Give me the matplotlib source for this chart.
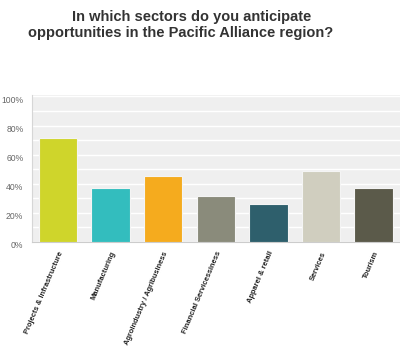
import numpy as np
import matplotlib
matplotlib.use('Agg')
import matplotlib.pyplot as plt
import matplotlib.transforms as mtransforms
from matplotlib.ticker import FixedLocator

# ------------------------------------------------------------
# DATA
# ------------------------------------------------------------

sectors = ['Projects & Infrastructure', 'Manufacturing', 'Agroindustry / Agribusiness',
           'Financial Servicessiness', 'Apparel & retail', 'Services', 'Tourism']
shares  = [71.6, 37.2, 45.6, 31.8, 25.9, 48.5, 37.2]   # percent of respondents
colors  = ['#cfd52b', '#33bdbe', '#f5ab1e', '#8a8b7b', '#2e5f6c', '#d0cebf', '#5b5a4a']

title_lines = ['In which sectors do you anticipate',
               'opportunities in the Pacific Alliance region?']

# ------------------------------------------------------------
# PLOT
# ------------------------------------------------------------

plt.rcParams['font.family'] = ['Liberation Sans', 'DejaVu Sans']

fig = plt.figure(figsize=(4.0, 3.46), dpi=100)
ax = fig.add_axes([0.079, 0.3006, 0.921, 0.4249])

x = np.arange(len(sectors))
ax.bar(x, shares, width=0.73, color=colors, edgecolor='#f4f4f4', linewidth=0.8, zorder=3)

ax.set_xlim(-0.5, len(sectors) - 0.5)
ax.set_ylim(0, 101)
ax.set_facecolor('#efefef')

# white 10% grid over the grey panel
ax.yaxis.set_minor_locator(FixedLocator(np.arange(10, 101, 10)))
ax.set_yticks(np.arange(0, 101, 20))
ax.set_yticklabels([f'{v}%' for v in range(0, 101, 20)])
ax.grid(axis='y', which='both', color='white', linewidth=1.0, zorder=1)
ax.tick_params(axis='y', which='both', length=0, pad=6, labelsize=6.2, labelcolor='#666666')

# percent labels sit a few pixels below their grid line
shift = mtransforms.ScaledTranslation(0, -3 / 100, fig.dpi_scale_trans)
for lbl in ax.get_yticklabels():
    lbl.set_transform(lbl.get_transform() + shift)

ax.set_xticks(x)
ax.set_xticklabels(sectors, rotation=67, ha='right', rotation_mode='anchor',
                   fontsize=5.4, fontweight='bold', color='#222222')
ax.tick_params(axis='x', length=0, pad=6)

for side in ['top', 'right']:
    ax.spines[side].set_visible(False)
ax.spines['left'].set_color('#d6d6d6')
ax.spines['bottom'].set_color('#cccccc')

fig.text(0.48, 0.95, title_lines[0], ha='center', va='center',
         fontsize=10.5, fontweight='bold', color='#333333')
fig.text(0.452, 0.905, title_lines[1], ha='center', va='center',
         fontsize=10.5, fontweight='bold', color='#333333')

fig.savefig('out.png', dpi=100)
